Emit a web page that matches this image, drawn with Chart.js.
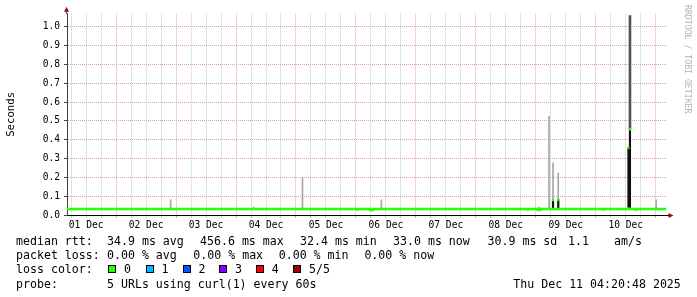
<!DOCTYPE html>
<html>
<head>
<meta charset="utf-8">
<title>smokeping median rtt</title>
<script src="https://cdn.jsdelivr.net/npm/chart.js@4.4.1/dist/chart.umd.min.js"></script>
<style>
  body { margin: 0; background: #fff; }
  #wrap { position: relative; width: 697px; height: 297px; font-family: 'DejaVu Sans Mono', monospace; color: #000; overflow: hidden; }
  #chart { position: absolute; left: 0; top: 0; }
  .t { position: absolute; font-size: 11.6px; line-height: 14px; white-space: pre; }
  .box { position: absolute; top: 264.5px; width: 8px; height: 8px; border: 1px solid #000; box-sizing: border-box; }
  #mark { position: absolute; left: 683px; top: 5px; writing-mode: vertical-rl; font-size: 8.2px; color: #b4b4b4; white-space: pre; }
</style>
</head>
<body>
<div id="wrap">
  <canvas id="chart" width="697" height="297"></canvas>
  <div id="mark">RRDTOOL / TOBI OETIKER</div>

  <div class="t" style="left:16px;top:234.3px">median rtt:</div>
  <div class="t" style="left:107px;top:234.3px">34.9 ms avg</div>
  <div class="t" style="left:200px;top:234.3px">456.6 ms max</div>
  <div class="t" style="left:300px;top:234.3px">32.4 ms min</div>
  <div class="t" style="left:393px;top:234.3px">33.0 ms now</div>
  <div class="t" style="left:487.5px;top:234.3px">30.9 ms sd</div>
  <div class="t" style="left:568px;top:234.3px">1.1</div>
  <div class="t" style="left:614px;top:234.3px">am/s</div>

  <div class="t" style="left:16px;top:248.3px">packet loss:</div>
  <div class="t" style="left:107px;top:248.3px">0.00 % avg</div>
  <div class="t" style="left:193.3px;top:248.3px">0.00 % max</div>
  <div class="t" style="left:278.7px;top:248.3px">0.00 % min</div>
  <div class="t" style="left:364.4px;top:248.3px">0.00 % now</div>

  <div class="t" style="left:16px;top:262.3px">loss color:</div>
  <div id="lossRow"></div>

  <div class="t" style="left:16px;top:276.6px">probe:</div>
  <div class="t" style="left:107px;top:276.6px">5 URLs using curl(1) every 60s</div>
  <div class="t" style="left:513.3px;top:276.6px">Thu Dec 11 04:20:48 2025</div>
</div>
<script>
// Zeitachse in Stunden ab 01 Dec 00:00
const startHour = 4.33;
const endHour = 244.33;
const dayLabels = ['01 Dec', '02 Dec', '03 Dec', '04 Dec', '05 Dec', '06 Dec', '07 Dec', '08 Dec', '09 Dec', '10 Dec'];
const yTicks = [0, 0.1, 0.2, 0.3, 0.4, 0.5, 0.6, 0.7, 0.8, 0.9, 1.0];

// Median (Sekunden), Stufenlinie
const medianHours  = [4.33,  120.4, 120.8, 125.6, 126.8, 188.4, 188.8, 192.8, 193.8, 218.8, 219.2, 232.0, 232.6, 244.33];
const medianValues = [0.032, 0.029, 0.032, 0.027, 0.032, 0.029, 0.032, 0.027, 0.032, 0.029, 0.032, 0.029, 0.032, 0.032];

// Rauch: hellgrau
const lightHours = [45.8,  79.0,  98.6,  130.2, 193.3, 197.3, 198.9, 201.0, 240.2];
const lightLow   = [0.034, 0.034, 0.034, 0.034, 0.034, 0.034, 0.034, 0.034, 0.034];
const lightHigh  = [0.080, 0.042, 0.198, 0.080, 0.042, 0.525, 0.277, 0.223, 0.080];

// Rauch: dunkelgrau
const darkHours = [229.7];
const darkLow   = [0.456];
const darkHigh  = [1.060];

// Rauch: schwarz
const blackHours = [198.9, 201.0, 229.1, 229.7];
const blackLow   = [0.034, 0.034, 0.040, 0.040];
const blackHigh  = [0.080, 0.080, 0.357, 0.456];

// Median-Markierungen an den Spitzen
const spikeMedianHours  = [198.9, 201.0, 229.1, 229.7];
const spikeMedianValues = [0.080, 0.080, 0.357, 0.456];

// Verlustfarben
const lossLabels = ['0', '1', '2', '3', '4', '5/5'];
const lossColors = ['#26ff00', '#00b8ff', '#0059ff', '#7e00ff', '#ff0000', '#a10000'];

const lossRow = document.getElementById('lossRow');
const boxLeft = [108.3, 145.7, 182.7, 219.3, 256, 293.3];
lossLabels.forEach(function(label, i) {
    const b = document.createElement('div');
    b.className = 'box';
    b.style.left = boxLeft[i] + 'px';
    b.style.background = lossColors[i];
    lossRow.appendChild(b);
    const t = document.createElement('div');
    t.className = 't';
    t.style.left = (boxLeft[i] + 15.7) + 'px';
    t.style.top = '262.3px';
    t.textContent = label;
    lossRow.appendChild(t);
});

function bars(hours, low, high) {
    return hours.map((h, i) => ({ x: h, y: [low[i], high[i]] }));
}

const majorGrid = '#e3a0a0';
const minorGrid = '#c8c8c8';

// Pfeile an den Achsenenden
const arrowPlugin = {
    id: 'arrows',
    afterDraw(chart) {
        const ctx = chart.ctx;
        const a = chart.chartArea;
        const x0 = Math.round(a.left) - 0.5;
        const y0 = Math.round(a.bottom) + 0.5;
        ctx.save();
        ctx.lineWidth = 1;
        ctx.strokeStyle = '#404040';
        ctx.beginPath();
        ctx.moveTo(x0, a.top);
        ctx.lineTo(x0, a.top - 3);
        ctx.stroke();
        ctx.strokeStyle = '#000';
        ctx.beginPath();
        ctx.moveTo(a.right, y0);
        ctx.lineTo(a.right + 3, y0);
        ctx.stroke();
        ctx.fillStyle = '#8b1010';
        ctx.beginPath();
        ctx.moveTo(x0, a.top - 7);
        ctx.lineTo(x0 - 2.5, a.top - 2);
        ctx.lineTo(x0 + 2.5, a.top - 2);
        ctx.closePath();
        ctx.fill();
        ctx.beginPath();
        ctx.moveTo(a.right + 7, y0);
        ctx.lineTo(a.right + 2, y0 - 2.5);
        ctx.lineTo(a.right + 2, y0 + 2.5);
        ctx.closePath();
        ctx.fill();
        ctx.restore();
    }
};

const markHalf = 0.005;

new Chart(document.getElementById('chart'), {
    type: 'bar',
    data: {
        datasets: [
            {
                type: 'bar',
                label: 'median mark',
                data: bars(spikeMedianHours,
                    spikeMedianValues.map(v => v - markHalf),
                    spikeMedianValues.map(v => v + markHalf)),
                backgroundColor: '#26ff00',
                barThickness: 1.5,
                grouped: false,
                order: 0
            },
            {
                type: 'line',
                label: 'median',
                data: medianHours.map((h, i) => ({ x: h, y: medianValues[i] })),
                borderColor: '#26ff00',
                borderWidth: 2.5,
                pointRadius: 0,
                stepped: 'before',
                fill: false,
                order: 1
            },
            {
                type: 'bar',
                label: 'smoke black',
                data: bars(blackHours, blackLow, blackHigh),
                backgroundColor: '#111111',
                barThickness: 1.5,
                grouped: false,
                order: 2
            },
            {
                type: 'bar',
                label: 'smoke dark',
                data: bars(darkHours, darkLow, darkHigh),
                backgroundColor: '#555555',
                barThickness: 2,
                grouped: false,
                order: 3
            },
            {
                type: 'bar',
                label: 'smoke light',
                data: bars(lightHours, lightLow, lightHigh),
                backgroundColor: '#a6a6a6',
                barThickness: 1,
                grouped: false,
                order: 4
            }
        ]
    },
    options: {
        responsive: false,
        animation: false,
        events: [],
        layout: { padding: { left: 0, top: 13.7, right: 30.5, bottom: 0 } },
        plugins: {
            legend: { display: false },
            tooltip: { enabled: false }
        },
        scales: {
            x: {
                type: 'linear',
                min: startHour,
                max: endHour,
                bounds: 'data',
                offset: false,
                afterBuildTicks(scale) {
                    const t = [];
                    for (let h = 6; h <= 240; h += 6) t.push({ value: h });
                    scale.ticks = t;
                },
                afterFit(scale) { scale.height = 82; },
                ticks: {
                    autoSkip: false,
                    maxRotation: 0,
                    padding: 2,
                    color: '#000',
                    font: { family: 'DejaVu Sans Mono', size: 9.6 },
                    callback(value) {
                        return value % 24 === 12 ? dayLabels[Math.floor(value / 24)] : '';
                    }
                },
                grid: {
                    offset: false,
                    tickLength: 3,
                    color: ctx => (ctx.tick && ctx.tick.value % 24 === 0) ? majorGrid : minorGrid,
                    tickColor: ctx => (ctx.tick && ctx.tick.value % 24 === 0) ? majorGrid : minorGrid
                },
                border: { color: '#000', width: 1, dash: [1, 1] }
            },
            y: {
                min: 0,
                max: 1.07,
                afterBuildTicks(scale) {
                    scale.ticks = yTicks.map(v => ({ value: v }));
                },
                afterFit(scale) { scale.width = 67; },
                ticks: {
                    padding: 4,
                    color: '#000',
                    font: { family: 'DejaVu Sans Mono', size: 9.6 },
                    callback: value => value.toFixed(1)
                },
                grid: {
                    tickLength: 3,
                    color: majorGrid,
                    tickColor: '#404040'
                },
                border: { color: '#404040', width: 1, dash: [1, 1] },
                title: {
                    display: true,
                    text: 'Seconds',
                    color: '#000',
                    padding: { top: 5, bottom: 0 },
                    font: { family: 'DejaVu Sans Mono', size: 10.7 }
                }
            }
        }
    },
    plugins: [arrowPlugin]
});
</script>
</body>
</html>
